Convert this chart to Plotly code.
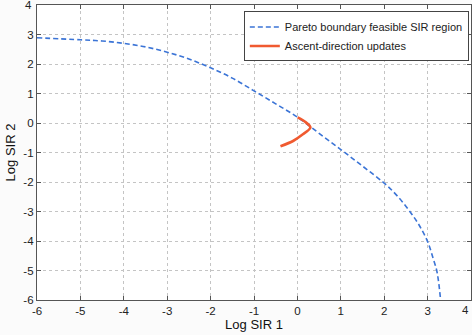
import plotly.graph_objects as go

# Pareto boundary
pareto_x = [-6, -5, -4.5, -4, -3.5, -3, -2.5, -2, -1.5, -1, -0.5, 0, 0.5, 1, 1.5, 2, 2.3, 2.59, 2.8, 3, 3.13, 3.21, 3.25, 3.30]
pareto_y = [2.89, 2.82, 2.78, 2.70, 2.58, 2.40, 2.17, 1.87, 1.52, 1.09, 0.65, 0.20, -0.35, -0.90, -1.46, -2.04, -2.47, -3.0, -3.45, -4.02, -4.6, -5.0, -5.35, -6.0]

# Ascent-direction updates
ascent_x = [0.005, 0.17, 0.30, 0.11, -0.10, -0.39]
ascent_y = [0.19, 0.05, -0.15, -0.40, -0.61, -0.79]

x_ticks = list(range(-6, 5))
y_ticks = list(range(-6, 5))

FONT = "Liberation Sans, Arial"

fig = go.Figure()
fig.add_trace(go.Scatter(x=pareto_x, y=pareto_y, mode="lines",
                         line=dict(color="#3b74d6", width=1.6, dash="5px,3px", shape="spline", smoothing=1.0),
                         name="Pareto boundary feasible SIR region"))
fig.add_trace(go.Scatter(x=ascent_x, y=ascent_y, mode="lines",
                         line=dict(color="#f05a30", width=2.6, shape="spline", smoothing=0.8),
                         name="Ascent-direction updates"))

axis_common = dict(showgrid=True, gridcolor="#c4c4c4", griddash="dot", gridwidth=1,
                   showline=True, linecolor="#555555", linewidth=1.2, mirror="ticks",
                   ticks="inside", ticklen=4, tickcolor="#555555", zeroline=False,
                   tickfont=dict(family=FONT, size=11.5, color="#222222"))

fig.update_layout(
    width=472, height=335,
    margin=dict(l=37, r=1, t=5, b=35),
    paper_bgcolor="#fbfbfb", plot_bgcolor="white",
    showlegend=True,
    legend=dict(x=0.995, y=0.978, xanchor="right", yanchor="top",
                bgcolor="white", bordercolor="#444444", borderwidth=1,
                font=dict(family=FONT, size=11, color="#222222"),
                itemwidth=30, tracegroupgap=0),
    xaxis=dict(range=[-6, 4], tickvals=x_ticks, ticktext=[str(v) for v in x_ticks],
               title=dict(text="Log SIR 1", standoff=2,
                          font=dict(family=FONT, size=13, color="#111111")),
               **axis_common),
    yaxis=dict(range=[-6, 4], tickvals=y_ticks, ticktext=[str(v) for v in y_ticks],
               title=dict(text="Log SIR 2", standoff=4,
                          font=dict(family=FONT, size=13, color="#111111")),
               **axis_common),
    annotations=[
        dict(x=0, y=y_ticks[-1], xref="paper", yref="y", text=str(y_ticks[-1]),
             showarrow=False, xanchor="right", yanchor="middle", xshift=-3,
             font=dict(family=FONT, size=11.5, color="#222222")),
        dict(x=x_ticks[-1], y=0, xref="x", yref="paper", text=str(x_ticks[-1]),
             showarrow=False, xanchor="right", yanchor="top", yshift=-2,
             font=dict(family=FONT, size=11.5, color="#222222")),
    ],
)

fig.write_html("out.html")
